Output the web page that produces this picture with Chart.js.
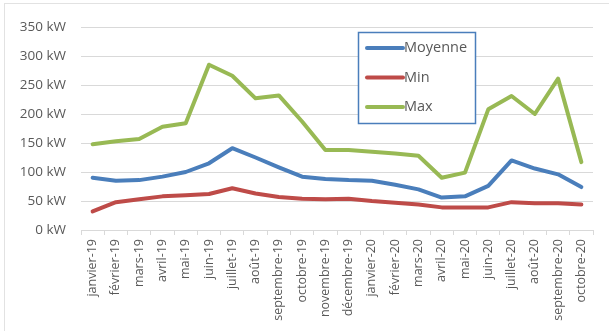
<!DOCTYPE html>
<html>
<head>
<meta charset="utf-8">
<script src="https://cdn.jsdelivr.net/npm/chart.js@4"></script>
<style>
  html, body { margin: 0; padding: 0; background: #fff; }
  #wrap {
    position: absolute; left: 0; top: 0; width: 609px; height: 331px;
  }
  #frame {
    position: absolute; left: 4px; top: 3px; right: 0; bottom: 0;
    border-top: 1px solid #e2e2e2; border-left: 1px solid #e2e2e2;
  }
  canvas { position: absolute; left: 0; top: 0; }
</style>
</head>
<body>
<div id="wrap">
  <div id="frame"></div>
  <canvas id="puissanceChart" width="609" height="331"></canvas>
</div>
<script>
// Mois de janvier 2019 à octobre 2020
const mois = ['janvier-19', 'février-19', 'mars-19', 'avril-19', 'mai-19', 'juin-19',
  'juillet-19', 'août-19', 'septembre-19', 'octobre-19', 'novembre-19', 'décembre-19',
  'janvier-20', 'février-20', 'mars-20', 'avril-20', 'mai-20', 'juin-20',
  'juillet-20', 'août-20', 'septembre-20', 'octobre-20'];

// Puissance en kW
const moyenne = [90, 85, 86, 92, 100, 115, 141, 125, 108, 92, 88, 86,
  85, 78, 70, 56, 58, 76, 120, 106, 96, 74];
const minimum = [32, 48, 53, 58, 60, 62, 72, 63, 57, 54, 53, 54,
  50, 47, 44, 39, 39, 39, 48, 46, 46, 44];
const maximum = [148, 153, 157, 178, 184, 285, 266, 227, 232, 187, 138, 138,
  135, 132, 128, 90, 99, 208, 231, 200, 261, 117];

const graduations = [0, 50, 100, 150, 200, 250, 300, 350];

const texte = '#595959';
const grille = '#d9d9d9';

// Légende encadrée dessinée dans la zone du graphique
const legendeEncadree = {
  id: 'legendeEncadree',
  afterDraw(chart) {
    const ctx = chart.ctx;
    const x = 358, y = 32, w = 117, h = 91;
    ctx.save();
    ctx.fillStyle = '#fff';
    ctx.fillRect(x, y, w, h);
    ctx.strokeStyle = '#4a7ebb';
    ctx.lineWidth = 1.5;
    ctx.strokeRect(x + 0.5, y + 0.5, w, h);
    ctx.font = '14.5px "Open Sans", sans-serif';
    ctx.textBaseline = 'middle';
    chart.data.datasets.forEach((ds, i) => {
      const ly = y + 16 + i * 29.5;
      ctx.strokeStyle = ds.borderColor;
      ctx.lineWidth = 4;
      ctx.lineCap = 'round';
      ctx.beginPath();
      ctx.moveTo(x + 9, ly);
      ctx.lineTo(x + 45, ly);
      ctx.stroke();
      ctx.fillStyle = texte;
      ctx.fillText(ds.label, x + 46, ly);
    });
    ctx.restore();
  }
};

const ctx = document.getElementById('puissanceChart').getContext('2d');
new Chart(ctx, {
  type: 'line',
  data: {
    labels: mois,
    datasets: [
      { label: 'Moyenne', data: moyenne, borderColor: '#4a7ebb' },
      { label: 'Min', data: minimum, borderColor: '#be4b48' },
      { label: 'Max', data: maximum, borderColor: '#98b954' }
    ]
  },
  options: {
    responsive: false,
    animation: false,
    elements: {
      line: { borderWidth: 4, tension: 0, borderCapStyle: 'round', borderJoinStyle: 'round' },
      point: { radius: 0 }
    },
    layout: { padding: { top: 27, right: 16, bottom: 0, left: 0 } },
    plugins: {
      legend: { display: false },
      tooltip: { enabled: false }
    },
    scales: {
      x: {
        offset: true,
        grid: {
          offset: true,
          drawOnChartArea: false,
          drawTicks: true,
          tickLength: 5,
          color: grille
        },
        border: { color: grille, width: 1 },
        ticks: {
          color: texte,
          font: { family: '"Open Sans", sans-serif', size: 12.5 },
          minRotation: 90,
          maxRotation: 90,
          autoSkip: false,
          padding: 4
        },
        afterFit(axis) { axis.height = 101; }
      },
      y: {
        min: 0,
        max: 350,
        afterBuildTicks(axis) { axis.ticks = graduations.map(v => ({ value: v })); },
        grid: { color: grille, lineWidth: 1, drawTicks: false },
        border: { display: false },
        ticks: {
          color: texte,
          font: { family: '"Open Sans", sans-serif', size: 13.5 },
          padding: 15,
          callback: v => v + ' kW'
        },
        afterFit(axis) { axis.width = 81; }
      }
    }
  },
  plugins: [legendeEncadree]
});
</script>
</body>
</html>
